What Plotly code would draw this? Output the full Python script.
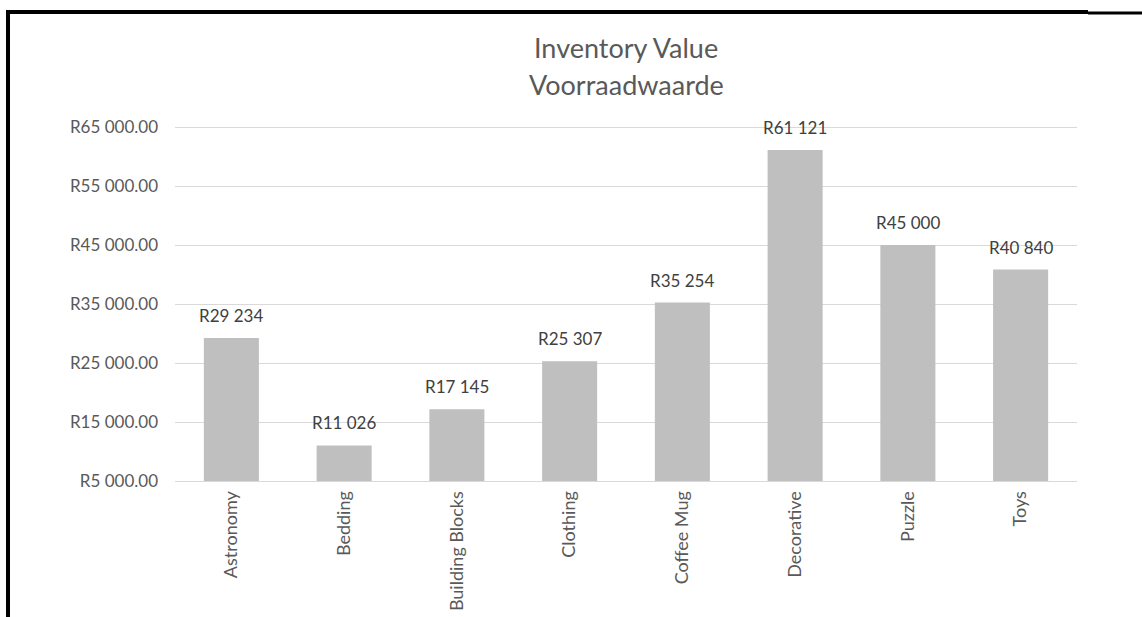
import plotly.graph_objects as go

categories = ["Astronomy", "Bedding", "Building Blocks", "Clothing",
              "Coffee Mug", "Decorative", "Puzzle", "Toys"]
values = [29234, 11026, 17145, 25307, 35254, 61121, 45000, 40840]
tick_vals = [5000, 15000, 25000, 35000, 45000, 55000, 65000]
tick_text = ["R5 000.00", "R15 000.00", "R25 000.00", "R35 000.00",
             "R45 000.00", "R55 000.00", "R65 000.00"]
title_lines = ["Inventory Value", "Voorraadwaarde"]

W, H = 1142, 617
ML, MR, MT, MB = 175, 65, 125, 136
PW, PH = W - ML - MR, H - MT - MB
# extend the top of the range by 2px so the top gridline is not clipped
y_hi = tick_vals[-1] + 2 * (tick_vals[-1] - tick_vals[0]) / (PH - 2)

def px(x):
    return (x - ML) / PW

def py(y):
    return (H - MB - y) / PH

FONT = "Lato, Open Sans, sans-serif"

fig = go.Figure()
fig.add_trace(go.Bar(
    x=categories, y=[v - tick_vals[0] for v in values], base=tick_vals[0],
    marker=dict(color="#BFBFBF", line=dict(width=0)),
    hoverinfo="skip",
))

labels = ["R" + f"{v:,}".replace(",", " ") for v in values]
for c, v, t in zip(categories, values, labels):
    fig.add_annotation(x=c, y=v, text=t, showarrow=False, yanchor="bottom",
                       yshift=10, font=dict(family=FONT, size=17, color="#404040"))

fig.add_annotation(x=0.5, xref="paper", y=py(47), yref="paper", text=title_lines[0],
                   showarrow=False, yanchor="middle",
                   font=dict(family=FONT, size=27, color="#595959"))
fig.add_annotation(x=0.5, xref="paper", y=py(85), yref="paper", text=title_lines[1],
                   showarrow=False, yanchor="middle",
                   font=dict(family=FONT, size=27, color="#595959"))

# black frame lines from the screenshot
fig.add_shape(type="line", xref="paper", yref="paper", x0=px(6), x1=px(1088),
              y0=py(12), y1=py(12), line=dict(color="black", width=4))
fig.add_shape(type="line", xref="paper", yref="paper", x0=px(1088), x1=px(1142),
              y0=py(13), y1=py(13), line=dict(color="black", width=3))
fig.add_shape(type="line", xref="paper", yref="paper", x0=px(8), x1=px(8),
              y0=py(10), y1=py(617), line=dict(color="black", width=4))

fig.update_layout(
    width=W, height=H,
    margin=dict(l=ML, r=MR, t=MT, b=MB),
    paper_bgcolor="white", plot_bgcolor="white",
    showlegend=False,
    bargap=0.512,
    font=dict(family=FONT, color="#595959"),
    xaxis=dict(
        type="category", range=[-0.5, len(categories) - 0.5],
        tickangle=-90, tickfont=dict(family=FONT, size=18, color="#595959"),
        showline=True, linecolor="#D9D9D9", linewidth=1, automargin=False,
        showgrid=False, ticks="", fixedrange=True, ticklabelstandoff=2,
    ),
    yaxis=dict(
        range=[tick_vals[0], y_hi], automargin=False,
        tickvals=tick_vals, ticktext=tick_text,
        tickfont=dict(family=FONT, size=17, color="#595959"),
        showgrid=True, gridcolor="#D9D9D9", gridwidth=1,
        zeroline=False, showline=False, ticks="", ticklabelstandoff=16,
        fixedrange=True,
    ),
)

fig.write_html("out.html",
               config={"responsive": False, "displayModeBar": False},
               post_script="document.body.style.margin='0';document.body.style.overflow='hidden';")
